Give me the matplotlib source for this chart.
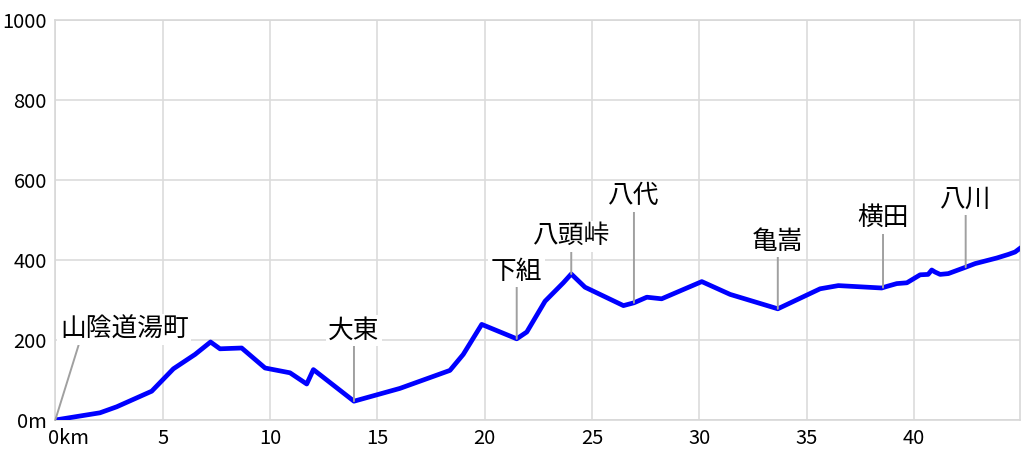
import numpy as np
import matplotlib
matplotlib.use("Agg")
import matplotlib.pyplot as plt
import matplotlib.transforms as mtransforms

plt.rcParams['font.family'] = ['Noto Sans CJK JP', 'DejaVu Sans']

# elevation profile data
dist_km = [0, 2.08, 2.86, 4.49, 5.50, 6.51, 7.23, 7.67, 8.68, 9.77, 10.93, 11.71, 12.02,
           13.91, 16.05, 18.38, 19.0, 19.86, 21.49, 21.96, 22.81, 23.66, 24.03, 24.67,
           26.46, 26.95, 27.55, 28.24, 30.11, 31.43, 33.65, 35.62, 36.47, 38.49, 38.73,
           39.19, 39.66, 40.28, 40.65, 40.82, 40.97, 41.21, 41.59, 42.40, 42.84, 43.85,
           44.39, 44.70, 44.90]
elev_m = [0, 18, 33, 72, 128, 164, 195, 178, 180, 130, 118, 90, 126,
          47, 79, 124, 164, 239, 203, 220, 297, 343, 365, 332,
          286, 293, 307, 303, 346, 314, 278, 328, 336, 330, 334,
          341, 343, 363, 364, 375, 370, 364, 366, 382, 391, 405,
          414, 420, 428]

# place labels
place_names = ['山陰道湯町', '大東', '下組', '八頭峠', '八代', '亀嵩', '横田', '八川']
place_km = [0.0, 13.91, 21.49, 24.03, 26.95, 33.65, 38.55, 42.40]

# layout of label text (data coords)
label_x = [3.22, 13.91, 21.49, 24.03, 26.95, 33.65, 38.55, 42.40]
label_y = [226, 224, 371, 459, 559, 446, 504, 551]
label_relx = [0.15, 0.5, 0.5, 0.5, 0.5, 0.5, 0.5, 0.5]

x_ticks = [0, 5, 10, 15, 20, 25, 30, 35, 40]
x_ticklabels = ['0km', '5', '10', '15', '20', '25', '30', '35', '40']
y_ticks = [0, 200, 400, 600, 800, 1000]
y_ticklabels = ['0m', '200', '400', '600', '800', '1000']

fig = plt.figure(figsize=(10.24, 4.55), dpi=100)
ax = fig.add_axes([55.3 / 1024, 35 / 455, (1020 - 55.3) / 1024, 400 / 455])

ax.plot(dist_km, elev_m, color='#0000ff', lw=3.4, solid_joinstyle='round', zorder=3)

for name, km, tx, ty, rx in zip(place_names, place_km, label_x, label_y, label_relx):
    y0 = np.interp(km, dist_km, elev_m)
    ax.annotate(name, xy=(km, y0), xytext=(tx, ty), ha='center', va='center',
                fontsize=18.5, color='black', zorder=5,
                bbox=dict(boxstyle='square,pad=0.1', fc='white', ec='none'),
                arrowprops=dict(arrowstyle='-', color='#a0a0a0', lw=1.4,
                                shrinkA=0, shrinkB=0, relpos=(rx, 0)))

ax.set_xlim(0, 44.93)
ax.set_ylim(0, 1000)
ax.set_xticks(x_ticks)
ax.set_xticklabels(x_ticklabels)
ax.set_yticks(y_ticks)
ax.set_yticklabels(y_ticklabels)
ax.tick_params(length=0, labelsize=14.5, pad=6)
lbl0 = ax.get_xticklabels()[0]
lbl0.set_horizontalalignment('left')
offset = mtransforms.ScaledTranslation(-7 / 100, 0, fig.dpi_scale_trans)
lbl0.set_transform(lbl0.get_transform() + offset)

ax.grid(True, color='#dcdcdc', lw=1.2)
ax.set_axisbelow(True)
for s in ax.spines.values():
    s.set_color('#d8d8d8')
    s.set_linewidth(1.2)

fig.savefig('out.png', dpi=100)
